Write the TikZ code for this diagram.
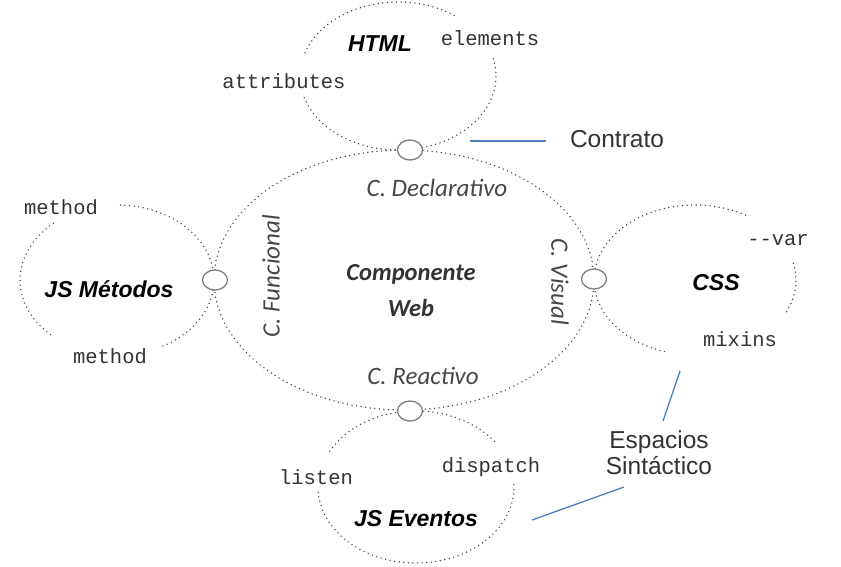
\documentclass[tikz,border=0pt]{standalone}
\usepackage{fontspec}
\setmainfont{Liberation Sans}
\newfontfamily\monof{Liberation Mono}
\newfontfamily\calf{Carlito}
\usetikzlibrary{calc,shapes.geometric}
\definecolor{dotc}{HTML}{3A3A3A}
\definecolor{linkc}{HTML}{4F81BD}
\definecolor{txtc}{HTML}{333333}
\definecolor{ringc}{HTML}{7F7F7F}
\begin{document}
\begin{tikzpicture}[x=1pt,y=-1pt,
  dots/.style={draw=dotc, line width=1.5pt, line cap=round, dash pattern=on 0pt off 4.6pt},
  ring/.style={draw=ringc, line width=1.3pt, fill=white, ellipse, minimum width=25pt, minimum height=20pt, inner sep=0pt},
  link/.style={draw=linkc, line width=1.3pt},
  mono/.style={font=\monof\fontsize{20.5}{24}\selectfont, text=txtc, inner sep=0pt},
  title/.style={font=\fontsize{23}{26}\selectfont\bfseries\itshape, text=black, inner sep=0pt},
  cal/.style={font=\calf\fontsize{25}{28}\selectfont\itshape, text=txtc!90, inner sep=0pt},
  note/.style={font=\fontsize{24.5}{28}\selectfont, text=txtc, inner sep=0pt, align=center}]
\useasboundingbox (0,0) rectangle (841,566);
\fill[white] (0,0) rectangle (841,566);

% main ellipse
\draw[dots] (404,280) ellipse [x radius=190pt, y radius=130pt];

% HTML ellipse arcs
\draw[dots] (398,76) ++(55:98pt and 74pt) arc[start angle=55, end angle=164, x radius=98pt, y radius=74pt];
\draw[dots] (398,76) ++(197:98pt and 74pt) arc[start angle=197, end angle=374, x radius=98pt, y radius=74pt];

% JS Metodos arcs
\draw[dots] (117,280) ++(88:97pt and 75pt) arc[start angle=88, end angle=-63, x radius=97pt, y radius=75pt];
\draw[dots] (117,280) ++(131:97pt and 75pt) arc[start angle=131, end angle=229, x radius=97pt, y radius=75pt];

% CSS arcs
\draw[dots] (695,280) ++(60:101pt and 75pt) arc[start angle=60, end angle=255, x radius=101pt, y radius=75pt];
\draw[dots] (695,280) ++(-25:101pt and 75pt) arc[start angle=-25, end angle=13, x radius=101pt, y radius=75pt];

% JS Eventos arcs
\draw[dots] (416,487) ++(94:98pt and 76pt) arc[start angle=94, end angle=155, x radius=98pt, y radius=76pt];
\draw[dots] (416,487) ++(37:98pt and 76pt) arc[start angle=37, end angle=86, x radius=98pt, y radius=76pt];
\draw[dots] (416,487) ++(184:98pt and 76pt) arc[start angle=184, end angle=363, x radius=98pt, y radius=76pt];

% rings
\node[ring] (rtop) at (410,150) {};
\node[ring] (rleft) at (215,280) {};
\node[ring] (rright) at (594,279) {};
\node[ring] (rbot) at (410,411) {};

% labels
\node[title] (html) at (380,44) {HTML};
\node[mono] (elements) at (490,38) {elements};
\node[mono] (attributes) at (284,81) {attributes};

\node[title] (jsm) at (109,289) {JS Métodos};
\node[mono] (m1) at (61,207) {method};
\node[mono] (m2) at (110,356) {method};

\node[title] (css) at (716,283) {CSS};
\node[mono] (var) at (778,240) {-{}-var};
\node[mono] (mixins) at (740,339) {mixins};

\node[title] (jse) at (416,519) {JS Eventos};
\node[mono] (listen) at (316,477) {listen};
\node[mono] (dispatch) at (491,467) {dispatch};

\node[cal] (decl) at (437,188) {C. Declarativo};
\node[cal] (reac) at (423,376) {C. Reactivo};
\node[cal, rotate=90] (func) at (271,276) {C. Funcional};
\node[cal, rotate=-90] (vis) at (560,282) {C. Visual};
\node[font=\calf\fontsize{24.5}{36}\selectfont\bfseries\itshape, text=txtc, align=center, inner sep=0pt] (comp) at (411,291) {Componente\\Web};

\node[note] (contrato) at (617,139) {Contrato};
\node[note] (espacios) at (659,453) {Espacios\\[-2pt]Sintáctico};

% connectors
\coordinate (ca) at (470,141);
\coordinate (cb) at (546,141);
\draw[link] (ca) -- (cb);
\coordinate (ea) at (680,371);
\coordinate (eb) at (663,421);
\draw[link] (ea) -- (eb);
\coordinate (ec) at (624,487);
\coordinate (ed) at (532,520);
\draw[link] (ec) -- (ed);
\end{tikzpicture}
\end{document}
